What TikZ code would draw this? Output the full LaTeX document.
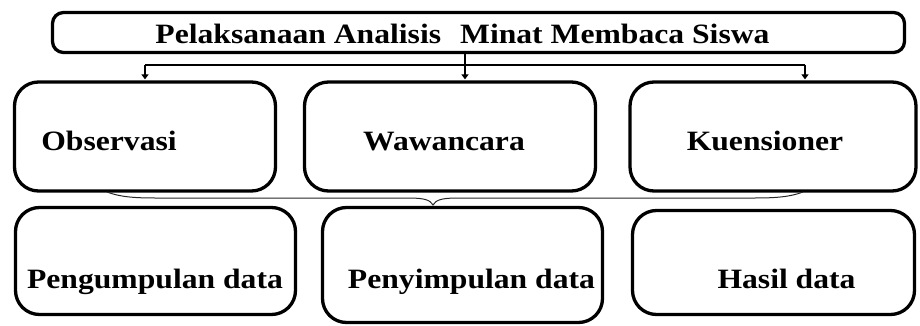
\documentclass[tikz,border=0pt]{standalone}
\usepackage{fontspec}
\setmainfont{Liberation Serif}[FakeStretch=1.13]
\usetikzlibrary{arrows.meta}

\begin{document}
\begin{tikzpicture}[x=1pt,y=-1pt,
  box/.style={draw, line width=3.3pt, rounded corners=24pt, inner sep=0pt},
  titlebox/.style={draw, line width=3.3pt, rounded corners=11pt, inner sep=0pt},
  lbl/.style={anchor=base, inner sep=0pt, font=\fontsize{28}{30}\selectfont\bfseries},
  link/.style={line width=1.3pt},
  arr/.style={link, -{Triangle[width=7pt,length=5pt]}, shorten >=1pt},
  bracket/.style={line width=1pt, black!85}
]
\useasboundingbox (0,0) rectangle (920,326);

% heading
\node[titlebox, minimum width=852pt, minimum height=40pt] (title) at (478.5,32.5) {};
\node[lbl] (ttitle) at (462.5,44) {Pelaksanaan Analisis\hspace{19pt}Minat Membaca Siswa};

% methods row
\node[box, minimum width=261pt, minimum height=109pt] (obs) at (145,136.5) {};
\node[box, minimum width=291pt, minimum height=109pt] (waw) at (450,136.5) {};
\node[box, minimum width=286pt, minimum height=109pt] (kue) at (773,136.5) {};
\node[lbl] (tobs) at (109,150) {Observasi};
\node[lbl] (twaw) at (444,150) {Wawancara};
\node[lbl] (tkue) at (765,150) {Kuensioner};

% processing row
\node[box, minimum width=280pt, minimum height=107pt] (peng) at (155.5,261) {};
\node[box, minimum width=280pt, minimum height=115pt] (peny) at (462.5,265) {};
\node[box, minimum width=282pt, minimum height=104pt] (hasil) at (773.5,262.5) {};
\node[lbl] (tpeng) at (155,288) {Pengumpulan data};
\node[lbl] (tpeny) at (471.5,288) {Penyimpulan data};
\node[lbl] (thasil) at (786.5,288) {Hasil data};

% distribution line
\coordinate (hub) at (465,65);
\coordinate (hl) at (145,65);
\coordinate (hr) at (805,65);
\draw[link] (hl) -- (hr);
\draw[arr] (title.south -| hub) -- (waw.north -| hub);
\draw[arr] (hl) -- (obs.north -| hl);
\draw[arr] (hr) -- (kue.north -| hr);

% brace between the rows
\coordinate (bl) at (107,192);
\coordinate (tip) at (433,205);
\coordinate (br) at (803,192);
\draw[bracket] (bl) .. controls (120,197) and (135,198) .. (155,198)
  -- (408,198) .. controls (425,198) and (430,200) .. (tip)
  .. controls (436,200) and (441,198) .. (458,198)
  -- (755,198) .. controls (775,198) and (790,197) .. (br);
\end{tikzpicture}
\end{document}
